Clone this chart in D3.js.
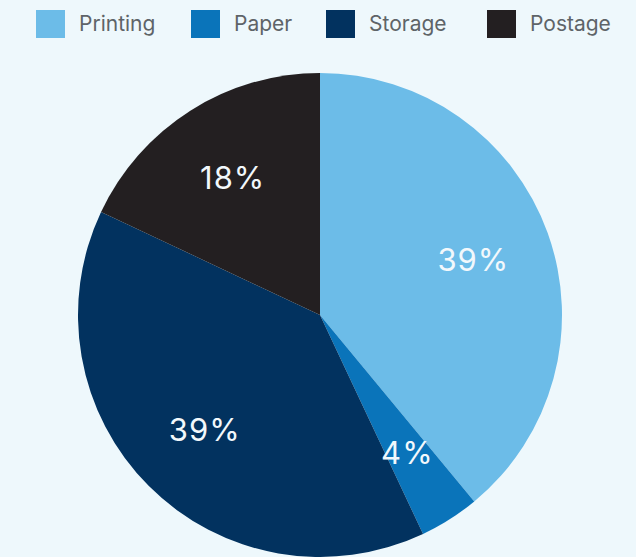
<!DOCTYPE html>
<html>
<head>
<meta charset="utf-8">
<script src="https://cdn.jsdelivr.net/npm/d3@7"></script>
<style>
  html, body { margin: 0; padding: 0; background: #eef8fc; }
  svg { display: block; }
</style>
</head>
<body>
<svg id="chart" width="636" height="557"></svg>
<script>
// Cost breakdown shares (percent)
const categories = ["Printing", "Paper", "Storage", "Postage"];
const values = [39, 4, 39, 18];
const colors = ["#6cbce8", "#0a74ba", "#02325f", "#231f21"];

const W = 636, H = 557;
const cx = 320, cy = 315, radius = 242, labelRadius = 163;

const svg = d3.select("#chart");
const data = categories.map((c, i) => ({ category: c, value: values[i] }));

const color = d3.scaleOrdinal().domain(categories).range(colors);

const pie = d3.pie().value(d => d.value).sort(null);
const arc = d3.arc().innerRadius(0).outerRadius(radius);
const labelArc = d3.arc().innerRadius(labelRadius).outerRadius(labelRadius);

const g = svg.append("g").attr("transform", `translate(${cx},${cy})`);
const arcs = pie(data);

g.selectAll("path.slice")
  .data(arcs)
  .join("path")
  .attr("class", "slice")
  .attr("d", arc)
  .attr("fill", d => color(d.data.category));

g.selectAll("text.pct")
  .data(arcs)
  .join("text")
  .attr("class", "pct")
  .attr("transform", d => `translate(${labelArc.centroid(d)})`)
  .attr("text-anchor", "middle")
  .attr("dy", "0.36em")
  .style("font-family", "Inter, 'Liberation Sans', sans-serif")
  .style("font-size", "31px")
  .style("letter-spacing", "1px")
  .style("fill", "#f2f8fc")
  .text(d => d.data.value + "%");

// Legend row across the top
const legendX = [36, 191, 326, 487];
const legend = svg.append("g").attr("class", "legend");
const items = legend.selectAll("g.item")
  .data(categories)
  .join("g")
  .attr("class", "item")
  .attr("transform", (d, i) => `translate(${legendX[i]},10)`);

items.append("rect")
  .attr("width", 29)
  .attr("height", 28)
  .attr("fill", d => color(d));

items.append("text")
  .attr("x", 43)
  .attr("y", 14)
  .attr("dy", "0.35em")
  .style("font-family", "Inter, 'Liberation Sans', sans-serif")
  .style("font-size", "21px")
  .style("fill", "#5e6468")
  .text(d => d);
</script>
</body>
</html>
